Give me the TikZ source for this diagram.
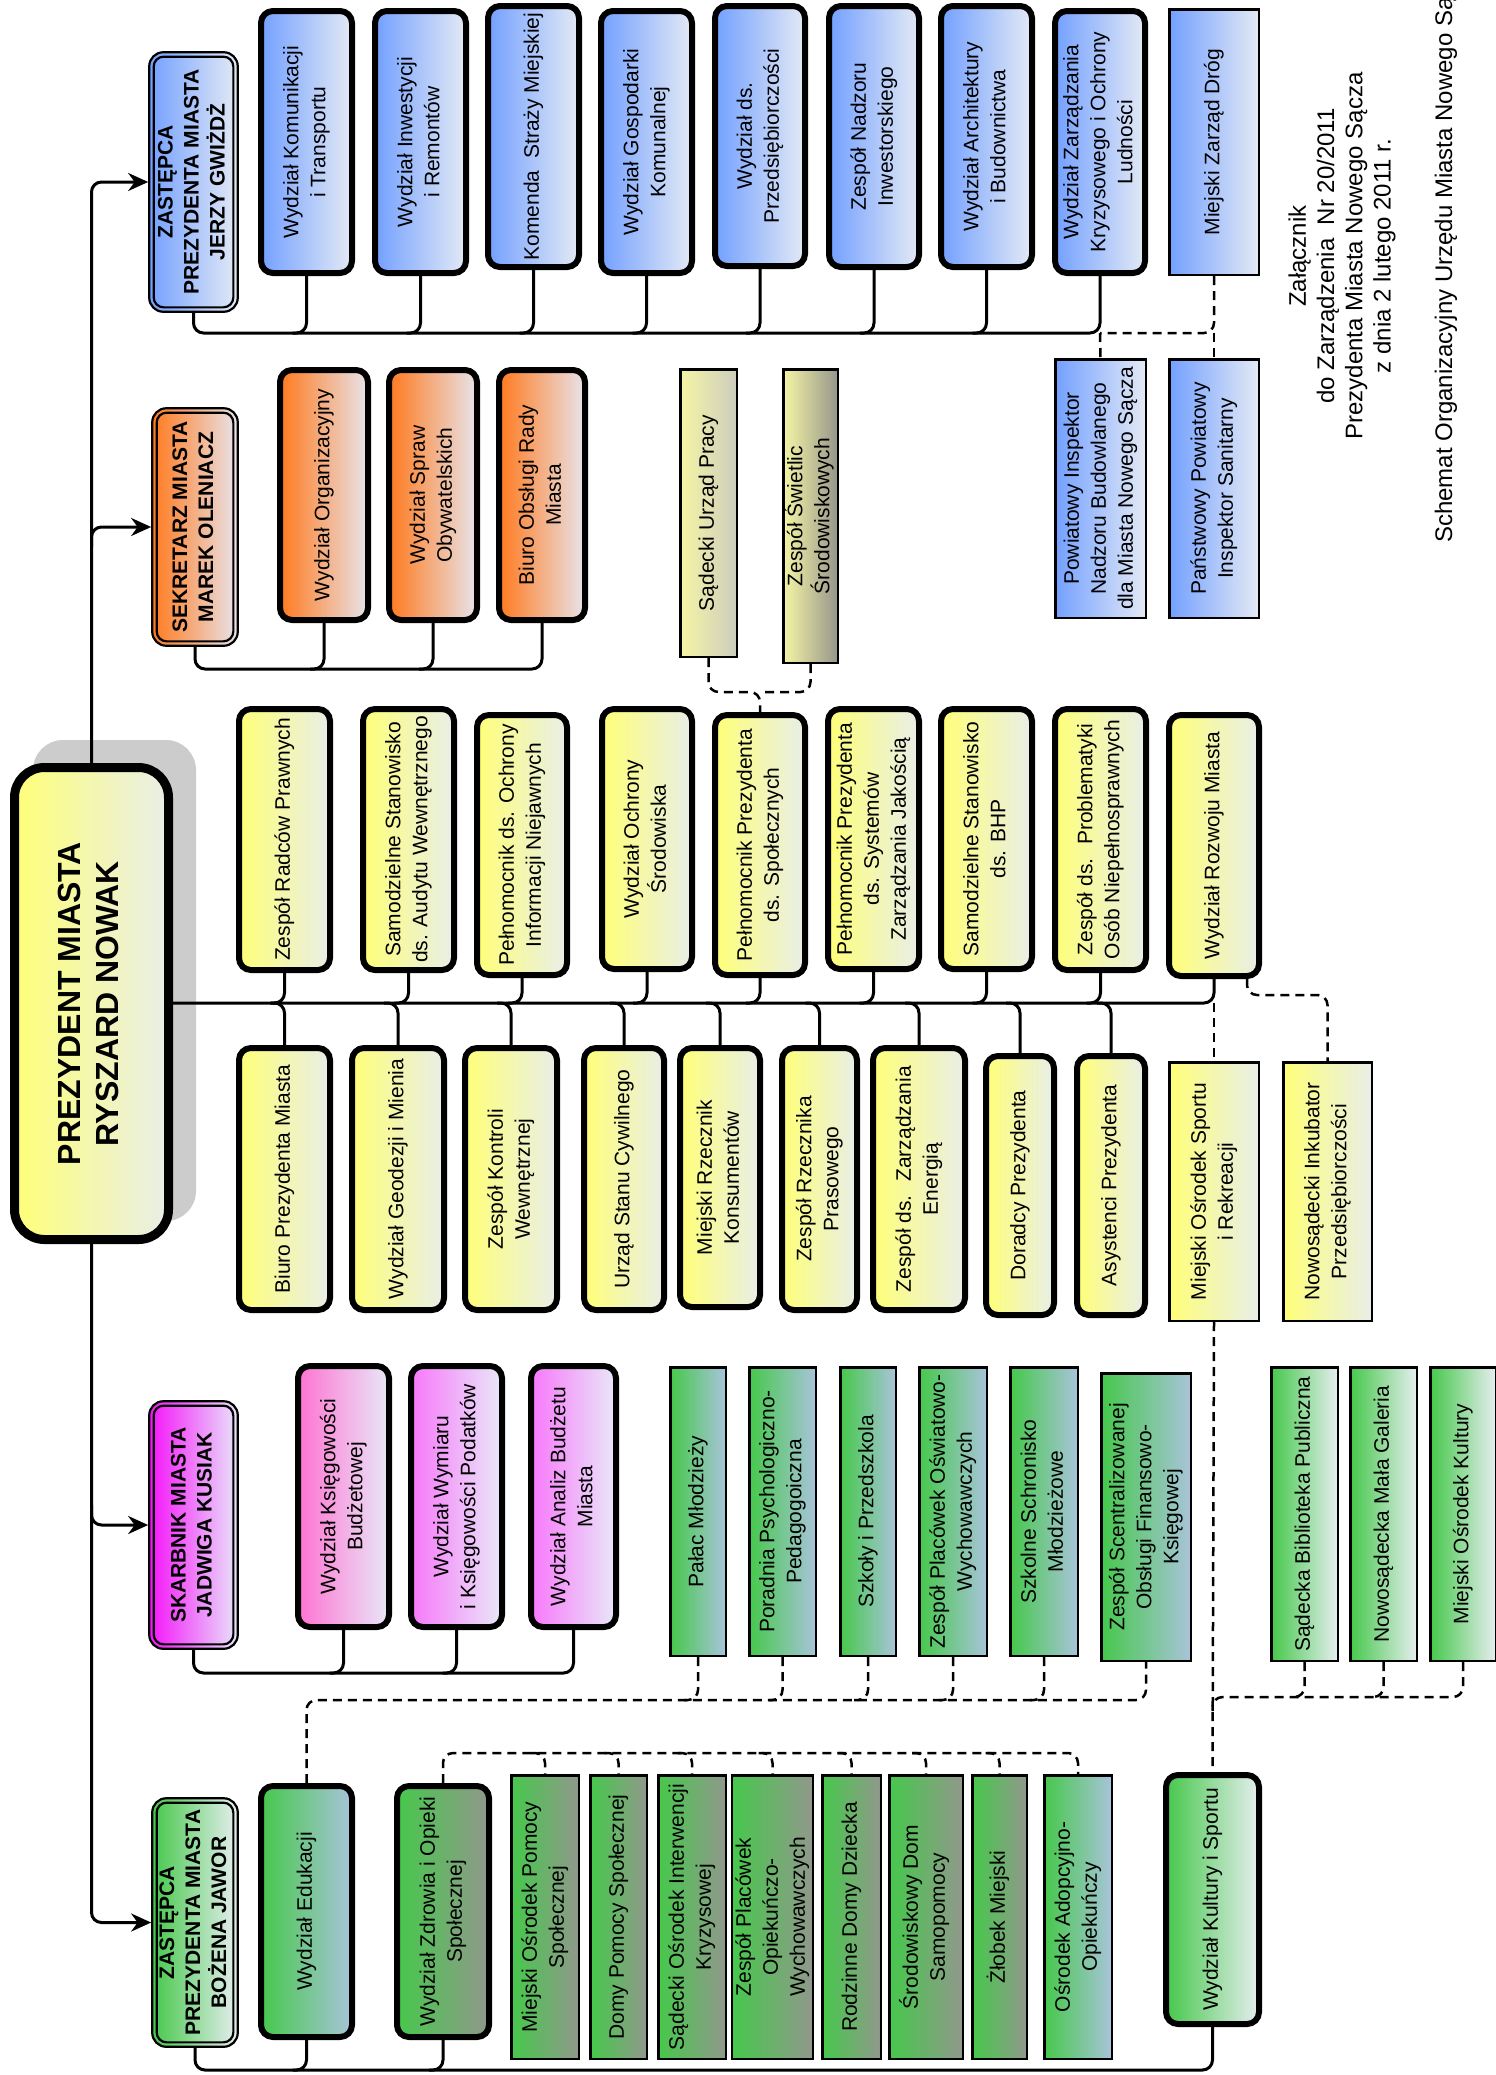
\documentclass[tikz,border=0pt]{standalone}
\usepackage{fontspec}
\setmainfont{Liberation Sans}
\usetikzlibrary{arrows.meta,calc}
\pgfdeclarelayer{bg}
\pgfsetlayers{bg,main}
\definecolor{bL}{RGB}{115,160,255}
\definecolor{bR}{RGB}{228,234,245}
\definecolor{oL}{RGB}{255,122,30}
\definecolor{oR}{RGB}{232,228,235}
\definecolor{yL}{RGB}{255,255,120}
\definecolor{yR}{RGB}{232,238,232}
\definecolor{supL}{RGB}{245,245,165}
\definecolor{gyRa}{RGB}{205,205,190}
\definecolor{gyRb}{RGB}{150,150,140}
\definecolor{mL}{RGB}{245,20,250}
\definecolor{mR}{RGB}{232,228,250}
\definecolor{pL}{RGB}{255,115,210}
\definecolor{ppL}{RGB}{248,120,250}
\definecolor{pR}{RGB}{232,232,248}
\definecolor{gL}{RGB}{70,200,75}
\definecolor{gBR}{RGB}{168,196,218}
\definecolor{gGR}{RGB}{145,152,140}
\definecolor{gPR}{RGB}{230,238,240}
\definecolor{shadowgray}{RGB}{204,204,204}
\newcommand\rtxt[1]{\rotatebox{90}{\begin{tabular}{@{}c@{}}#1\end{tabular}}}
\newcommand\BT[7]{\node[thickbox,#1,minimum width={#4-#2-6},minimum height={#5-#3-6}] (#6) at ({(#2+#4)/2},{(#3+#5)/2}) {\rtxt{#7}};}
\newcommand\BS[7]{\node[thinbox,#1,minimum width={#4-#2-2.5},minimum height={#5-#3-2.5}] (#6) at ({(#2+#4)/2},{(#3+#5)/2}) {\rtxt{#7}};}
\newcommand\BD[7]{\node[depbox,#1,minimum width={#4-#2-2.5},minimum height={#5-#3-2.5}] (#6) at ({(#2+#4)/2},{(#3+#5)/2}) {\rtxt{#7}};
\draw[line width=2.2pt, rounded corners=10pt] ($(#6.south west)+(5.5,-5.5)$) rectangle ($(#6.north east)+(-5.5,5.5)$);}
\tikzset{
 box/.style={draw=black, inner sep=0pt, font=\fontsize{21}{27}\selectfont},
 thickbox/.style={box, line width=6pt, rounded corners=12pt},
 thinbox/.style={box, line width=2.5pt},
 depbox/.style={box, line width=2.2pt, rounded corners=14pt, font=\bfseries\fontsize{21}{26}\selectfont},
 fblue/.style={left color=bL, right color=bR},
 forange/.style={left color=oL, right color=oR},
 fyellow/.style={left color=yL, right color=yR},
 fsup/.style={left color=supL, right color=gyRa},
 fswiet/.style={left color=supL, right color=gyRb},
 fmagenta/.style={left color=mL, right color=mR},
 fpink/.style={left color=pL, right color=pR},
 fpinkb/.style={left color=ppL, right color=pR},
 fgb/.style={left color=gL, right color=gBR},
 fgg/.style={left color=gL, right color=gGR},
 fgp/.style={left color=gL, right color=gPR},
 conn/.style={line width=3pt, rounded corners=10pt},
 dconn/.style={line width=2.5pt, dash pattern=on 9pt off 6pt, rounded corners=10pt},
 arr/.style={-{Stealth[length=20pt,width=18pt]}},
}
\begin{document}
\begin{tikzpicture}[x=1pt,y=-1pt]
\useasboundingbox (0,0) rectangle (1496,2075);
\coordinate (busG) at (0,333);
\coordinate (busO) at (0,669);
\coordinate (busD) at (0,692);
\coordinate (busP) at (0,1003);
\coordinate (busI) at (0,995);
\coordinate (busF) at (0,1673);
\coordinate (busK) at (0,1697);
\coordinate (busE) at (0,1700);
\coordinate (busZ) at (0,1753);
\coordinate (busJ) at (0,2070);

% President
\node[draw=black, line width=9pt, rounded corners=30pt, left color=yL, right color=yR, inner sep=0pt,
 minimum width=154pt, minimum height=472pt, font=\bfseries\fontsize{32}{38}\selectfont] (pres) at (91.5,1003.5)
 {\rtxt{PREZYDENT MIASTA\\RYSZARD NOWAK}};

% Gwizdz group
\BD{fblue}{148}{51}{239}{313}{gwizdz}{ZASTĘPCA\\PREZYDENTA MIASTA\\JERZY GWIŻDŻ}
\BT{fblue}{258}{8}{355}{276}{kom}{Wydział Komunikacji\\i Transportu}
\BT{fblue}{372}{8}{469}{276}{inw}{Wydział Inwestycji\\i Remontów}
\BT{fblue}{485}{3}{582}{270}{straz}{Komenda~ Straży Miejskiej}
\BT{fblue}{598}{8}{695}{276}{gosp}{Wydział Gospodarki\\Komunalnej}
\BT{fblue}{712}{3}{808}{269}{przed}{Wydział ds.\\Przedsiębiorczości}
\BT{fblue}{826}{3}{922}{270}{nadz}{Zespół Nadzoru\\Inwestorskiego}
\BT{fblue}{938}{3}{1035}{270}{arch}{Wydział Architektury\\i Budownictwa}
\BT{fblue}{1052}{8}{1148}{276}{kryz}{Wydział Zarządzania\\Kryzysowego i Ochrony\\Ludności}
\BS{fblue}{1168}{8}{1260}{276}{zdrog}{Miejski Zarząd Dróg}
\BS{fblue}{1054}{358}{1147}{619}{powiat}{Powiatowy Inspektor\\Nadzoru Budowlanego\\dla Miasta Nowego Sącza}
\BS{fblue}{1168}{358}{1260}{619}{panstw}{Państwowy Powiatowy\\Inspektor Sanitarny}

% Sekretarz group
\BD{forange}{151}{407}{239}{647}{sekr}{SEKRETARZ MIASTA\\MAREK OLENIACZ}
\BT{forange}{277}{367}{371}{623}{org}{Wydział Organizacyjny}
\BT{forange}{386}{367}{480}{623}{spraw}{Wydział Spraw\\Obywatelskich}
\BT{forange}{496}{367}{588}{623}{rada}{Biuro Obsługi Rady\\Miasta}
\BS{fsup}{679}{368}{738}{658}{sup}{Sądecki Urząd Pracy}
\BS{fswiet}{782}{368}{839}{664}{swiet}{Zespół Świetlic\\Środowiskowych}

% upper yellow
\BT{fyellow}{236}{706}{333}{973}{radcy}{Zespół Radców Prawnych}
\BT{fyellow}{360}{706}{457}{973}{audyt}{Samodzielne Stanowisko\\ds. Audytu Wewnętrznego}
\BT{fyellow}{474}{712}{570}{978}{niejaw}{Pełnomocnik ds. Ochrony\\Informacji Niejawnych}
\BT{fyellow}{599}{706}{695}{972}{srod}{Wydział Ochrony\\Środowiska}
\BT{fyellow}{712}{712}{808}{978}{spol}{Pełnomocnik Prezydenta\\ds. Społecznych}
\BT{fyellow}{825}{706}{922}{972}{jakosc}{Pełnomocnik Prezydenta\\ds. Systemów\\Zarządzania Jakością}
\BT{fyellow}{938}{706}{1035}{972}{bhp}{Samodzielne Stanowisko\\ds. BHP}
\BT{fyellow}{1052}{706}{1149}{973}{niepel}{Zespół ds.~ Problematyki\\Osób Niepełnosprawnych}
\BT{fyellow}{1166}{712}{1262}{979}{rozwoj}{Wydział Rozwoju Miasta}

% lower yellow
\BT{fyellow}{236}{1045}{333}{1313}{biuro}{Biuro Prezydenta Miasta}
\BT{fyellow}{349}{1045}{447}{1313}{geod}{Wydział Geodezji i Mienia}
\BT{fyellow}{462}{1045}{560}{1313}{kontr}{Zespół Kontroli\\Wewnętrznej}
\BT{fyellow}{581}{1045}{667}{1313}{usc}{Urząd Stanu Cywilnego}
\BT{fyellow}{677}{1045}{763}{1310}{konsum}{Miejski Rzecznik\\Konsumentów}
\BT{fyellow}{779}{1045}{860}{1313}{prasa}{Zespół Rzecznika\\Prasowego}
\BT{fyellow}{870}{1045}{968}{1313}{energ}{Zespół ds.~ Zarządzania\\Energią}
\BT{fyellow}{983}{1053}{1057}{1318}{dorad}{Doradcy Prezydenta}
\BT{fyellow}{1074}{1053}{1148}{1318}{asyst}{Asystenci Prezydenta}
\BS{fyellow}{1168}{1061}{1260}{1322}{sport}{Miejski Ośrodek Sportu\\i Rekreacji}
\BS{fyellow}{1282}{1061}{1373}{1322}{inkub}{Nowosądecki Inkubator\\Przedsiębiorczości}

% Skarbnik group
\BD{fmagenta}{148}{1400}{239}{1650}{skarb}{SKARBNIK MIASTA\\JADWIGA KUSIAK}
\BT{fpink}{295}{1363}{392}{1630}{ksieg}{Wydział Księgowości\\Budżetowej}
\BT{fpinkb}{408}{1363}{505}{1630}{wymiar}{Wydział Wymiaru\\i Księgowości Podatków}
\BT{fpinkb}{528}{1363}{619}{1630}{analiz}{Wydział Analiz Budżetu\\Miasta}

% green units (education / culture)
\BS{fgb}{669}{1366}{727}{1657}{palac}{Pałac Młodzieży}
\BS{fgb}{748}{1366}{817}{1657}{porad}{Poradnia Psychologiczno-\\Pedagogoiczna}
\BS{fgb}{839}{1366}{897}{1657}{szkoly}{Szkoły i Przedszkola}
\BS{fgb}{918}{1366}{988}{1657}{zpow}{Zespół Placówek Oświatowo-\\Wychowawczych}
\BS{fgb}{1009}{1366}{1079}{1657}{schron}{Szkolne Schronisko\\Młodzieżowe}
\BS{fgb}{1100}{1372}{1192}{1662}{scentr}{Zespół Scentralizowanej\\Obsługi Finansowo-\\Księgowej}
\BS{fgp}{1270}{1366}{1339}{1662}{bibl}{Sądecka Biblioteka Publiczna}
\BS{fgp}{1349}{1366}{1418}{1662}{galer}{Nowosądecka Mała Galeria}
\BS{fgp}{1429}{1366}{1497}{1662}{mok}{Miejski Ośrodek Kultury}

% Jawor group
\BD{fgp}{151}{1797}{239}{2048}{jawor}{ZASTĘPCA\\PREZYDENTA MIASTA\\BOŻENA JAWOR}
\BT{fgb}{258}{1783}{355}{2040}{edu}{Wydział Edukacji}
\BT{fgg}{394}{1783}{492}{2040}{zdrow}{Wydział Zdrowia i Opieki\\Społecznej}
\BS{fgg}{510}{1774}{580}{2060}{mops}{Miejski Ośrodek Pomocy\\Społecznej}
\BS{fgg}{589}{1774}{648}{2060}{dps}{Domy Pomocy Społecznej}
\BS{fgg}{657}{1774}{727}{2060}{soik}{Sądecki Ośrodek Interwencji\\Kryzysowej}
\BS{fgg}{732}{1774}{813}{2060}{zpo}{\fontsize{21}{25}\selectfont Zespół Placówek\\Opiekuńczo-\\Wychowawczych}
\BS{fgg}{821}{1774}{882}{2060}{rdd}{Rodzinne Domy Dziecka}
\BS{fgg}{888}{1774}{964}{2060}{sds}{Środowiskowy Dom\\Samopomocy}
\BS{fgg}{971}{1774}{1028}{2060}{zlob}{Żłobek Miejski}
\BS{fgb}{1043}{1774}{1113}{2060}{adop}{Ośrodek Adopcyjno-\\Opiekuńczy}
\BT{fgp}{1163}{1772}{1262}{2027}{kult}{Wydział Kultury i Sportu}

% titles
\node[rotate=90, align=center, inner sep=0pt, font=\fontsize{24}{28.3}\selectfont] (zal) at (1342,256)
 {Załącznik\\do Zarządzenia~ Nr 20/2011\\Prezydenta Miasta Nowego Sącza\\z dnia 2 lutego 2011 r.};
\node[rotate=90, anchor=base west, inner sep=0pt, font=\fontsize{24}{28}\selectfont] (tytul) at (1452,543)
 {Schemat Organizacyjny Urzędu Miasta Nowego Sącza};

\begin{pgfonlayer}{bg}
\fill[shadowgray, rounded corners=30pt] ($(pres.south west)+(23,-23)$) rectangle ($(pres.north east)+(23,-23)$);
% trunk
\draw[conn, arr] (pres.north) -- (pres.north|-gwizdz.west) -- (gwizdz.west);
\draw[conn, arr] ($(pres.north|-sekr.west)+(0,20)$) -- (pres.north|-sekr.west) -- (sekr.west);
\draw[conn, arr] (pres.south) -- (pres.south|-jawor.west) -- (jawor.west);
\draw[conn, arr] ($(pres.south|-skarb.west)+(0,-20)$) -- (pres.south|-skarb.west) -- (skarb.west);
% Gwizdz bus
\draw[conn] (gwizdz.south) -- (gwizdz.south|-busG) -- (kryz.south|-busG) -- (kryz.south);
\foreach \n in {kom,inw,straz,gosp,przed,nadz,arch}
 \draw[conn] (\n.south) -- (\n.south|-busG) -- ++(-14,0);
\draw[dconn] (zdrog.south) -- (zdrog.south|-busG) -- (kryz.south|-busG);
\draw[dconn] (zdrog.south|-busG) -- (panstw.north);
\draw[dconn] (kryz.south|-busG) -- (powiat.north);
% Sekretarz bus
\draw[conn] (sekr.south) -- (sekr.south|-busO) -- (rada.south|-busO) -- (rada.south);
\foreach \n in {org,spraw}
 \draw[conn] (\n.south) -- (\n.south|-busO) -- ++(-14,0);
\draw[dconn] (sup.south) -- (sup.south|-busD) -- (spol.north|-busD) -- (spol.north);
\draw[dconn] (swiet.south) -- (swiet.south|-busD) -- (spol.north|-busD);
% President bus
\draw[conn] (pres.east|-busP) -- (rozwoj.south|-busP) -- (rozwoj.south);
\foreach \n in {radcy,audyt,niejaw,srod,spol,jakosc,bhp,niepel}
 \draw[conn] (\n.south) -- (\n.south|-busP) -- ++(-14,0);
\foreach \n in {biuro,geod,kontr,usc,konsum,prasa,energ,dorad,asyst}
 \draw[conn] ($(\n.north|-busP)+(-14,0)$) -- (\n.north|-busP) -- (\n.north);
\draw[dconn] (rozwoj.south|-busP) -- (sport.north);
\coordinate (rzc) at ($(rozwoj.south east)+(-15,0)$);
\draw[dconn] (rzc) -- (rzc|-busI) -- (inkub.north|-busI) -- (inkub.north);
\draw[dconn] (sport.south) -- (kult.north);
\draw[dconn] (mok.south) -- (mok.south|-busK) -- (kult.north|-busK) -- ++(0,14);
\foreach \n in {bibl,galer}
 \draw[dconn] (\n.south) -- (\n.south|-busK) -- ++(-14,0);
% Skarbnik bus
\draw[conn] (skarb.south) -- (skarb.south|-busF) -- (analiz.south|-busF) -- (analiz.south);
\foreach \n in {ksieg,wymiar}
 \draw[conn] (\n.south) -- (\n.south|-busF) -- ++(-14,0);
% Education dashed
\draw[dconn] (edu.north) -- (edu.north|-busE) -- (scentr.south|-busE) -- (scentr.south);
\foreach \n in {palac,porad,szkoly,zpow,schron}
 \draw[dconn] (\n.south) -- (\n.south|-busE) -- ++(-14,0);
% Health dashed
\draw[dconn] (zdrow.north) -- (zdrow.north|-busZ) -- (adop.north|-busZ) -- (adop.north);
\foreach \n in {mops,dps,soik,zpo,rdd,sds,zlob}
 \draw[dconn] ($(\n.north|-busZ)+(-14,0)$) -- (\n.north|-busZ) -- (\n.north);
% Jawor bus
\draw[conn] (jawor.south) -- (jawor.south|-busJ) -- (kult.south|-busJ) -- (kult.south);
\foreach \n in {edu,zdrow}
 \draw[conn] (\n.south) -- (\n.south|-busJ) -- ++(-14,0);
\end{pgfonlayer}
\end{tikzpicture}
\end{document}
